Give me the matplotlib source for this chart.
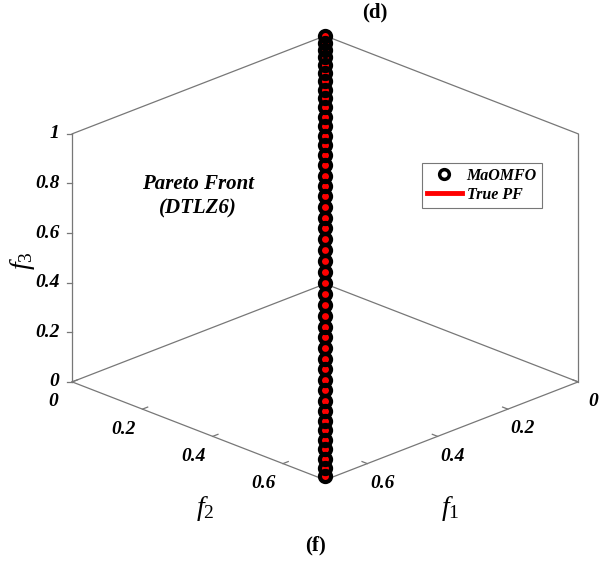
import matplotlib
matplotlib.use("Agg")
import matplotlib.pyplot as plt
from mpl_toolkits.mplot3d import proj3d

plt.rcParams['mathtext.fontset'] = 'custom'
plt.rcParams['mathtext.it'] = 'Liberation Serif:italic'
plt.rcParams['mathtext.rm'] = 'Liberation Serif'

# MaOMFO solutions (f1 = f2 on the DTLZ6 degenerate front)
mao_f1 = [0.0000, 0.0247, 0.0494, 0.0739, 0.0984, 0.1228, 0.1470, 0.1711, 0.1949, 0.2185,
          0.2418, 0.2649, 0.2876, 0.3100, 0.3320, 0.3536, 0.3747, 0.3954, 0.4156, 0.4354,
          0.4545, 0.4731, 0.4912, 0.5086, 0.5255, 0.5416, 0.5572, 0.5720, 0.5862, 0.5996,
          0.6124, 0.6243, 0.6355, 0.6459, 0.6556, 0.6645, 0.6725, 0.6797, 0.6861, 0.6916,
          0.6964, 0.7002, 0.7032, 0.7054, 0.7067, 0.7071]
mao_f2 = list(mao_f1)
mao_f3 = [1.0000, 0.9994, 0.9976, 0.9945, 0.9903, 0.9848, 0.9781, 0.9703, 0.9613, 0.9511,
          0.9397, 0.9272, 0.9135, 0.8988, 0.8829, 0.8660, 0.8480, 0.8290, 0.8090, 0.7880,
          0.7660, 0.7431, 0.7193, 0.6947, 0.6691, 0.6428, 0.6157, 0.5878, 0.5592, 0.5299,
          0.5000, 0.4695, 0.4384, 0.4067, 0.3746, 0.3420, 0.3090, 0.2756, 0.2419, 0.2079,
          0.1736, 0.1392, 0.1045, 0.0698, 0.0349, 0.0000]

# true Pareto front
pf_f1 = [0.0000, 0.0617, 0.1349, 0.2067, 0.2763, 0.3428, 0.4056, 0.4639, 0.5172,
         0.5647, 0.6061, 0.6409, 0.6686, 0.6890, 0.7018, 0.7071]
pf_f2 = list(pf_f1)
pf_f3 = [1.0000, 0.9962, 0.9816, 0.9563, 0.9205, 0.8746, 0.8192, 0.7547, 0.6820,
         0.6018, 0.5150, 0.4226, 0.3256, 0.2250, 0.1219, 0.0000]

xy_ticks = [0, 0.2, 0.4, 0.6]
z_ticks = [0, 0.2, 0.4, 0.6, 0.8, 1]
xmax = 0.72

fig = plt.figure(figsize=(5.99, 5.62), dpi=100)
ax = fig.add_axes([0.0814, 0.079, 0.9, 0.9], projection='3d')
ax.set_proj_type('ortho')
ax.view_init(elev=22.8, azim=45)
ax.set_box_aspect((1, 1, 0.752), zoom=1.10)
ax.set_xlim(0, xmax)
ax.set_ylim(0, xmax)
ax.set_zlim(0, 1)
ax.set_axis_off()
ax.computed_zorder = False

gc = '#777777'
glw = 0.9
# box edges (back planes + bottom)
edges = [
    ([xmax, xmax], [0, 0], [0, 1]),
    ([0, 0], [xmax, xmax], [0, 1]),
    ([0, 0], [0, 0], [0, 1]),
    ([xmax, 0], [0, 0], [1, 1]),
    ([0, 0], [xmax, 0], [1, 1]),
    ([xmax, 0], [0, 0], [0, 0]),
    ([0, 0], [xmax, 0], [0, 0]),
    ([xmax, xmax], [0, xmax], [0, 0]),
    ([0, xmax], [xmax, xmax], [0, 0]),
]
for ex, ey, ez in edges:
    ax.plot(ex, ey, ez, color=gc, lw=glw, zorder=1, clip_on=False)

tfont = dict(family='Liberation Serif', weight='bold', style='italic', size=14)
M = ax.get_proj()


def label3d(x, y, z, s, **kw):
    # place a 2D text at the projected position of a 3D point
    px, py, _ = proj3d.proj_transform(x, y, z, M)
    ax.text2D(px, py, s, transform=ax.transData, clip_on=False, **kw)


# f3 ticks on the left vertical edge
for z in z_ticks:
    ax.plot([xmax, xmax + 0.008], [0, -0.008], [z, z], color=gc, lw=glw, zorder=1,
            clip_on=False)
    label3d(xmax + 0.018, -0.018, z, f'{z:g}', ha='right', va='center', **tfont)

# f2 ticks on left-front edge, f1 ticks on right-front edge
for t in xy_ticks:
    ax.plot([xmax, xmax - 0.015], [t, t], [0, 0], color=gc, lw=glw, zorder=1, clip_on=False)
    label3d(xmax + 0.055, t, -0.05, f'{t:g}', ha='center', va='center', **tfont)
    ax.plot([t, t], [xmax, xmax - 0.015], [0, 0], color=gc, lw=glw, zorder=1, clip_on=False)
    label3d(t, xmax + 0.043, -0.056, f'{t:g}', ha='center', va='center', **tfont)

ax.plot(pf_f1, pf_f2, pf_f3, color='red', lw=5, zorder=2, label='True PF', clip_on=False)
ax.plot(mao_f1, mao_f2, mao_f3, 'o', mfc='none', mec='black', mew=3, ms=8,
        zorder=3, label='MaOMFO', clip_on=False)

handles, labels = ax.get_legend_handles_labels()
leg = ax.legend(handles[::-1], labels[::-1], loc='upper left',
                bbox_to_anchor=(0.691, 0.724), bbox_transform=fig.transFigure,
                prop=dict(family='Liberation Serif', weight='bold', style='italic', size=11.5),
                frameon=True, fancybox=False, edgecolor='#777777', framealpha=1,
                borderpad=0.3, handlelength=2.2, handletextpad=0.3, labelspacing=0.2)
leg.get_frame().set_linewidth(0.8)
leg.legend_handles[0].set_markersize(7)
leg.legend_handles[0].set_markeredgewidth(2.5)
leg.legend_handles[1].set_linewidth(3.5)

lfont = dict(family='Liberation Serif', weight='bold', style='italic', size=15)
fig.text(0.331, 0.65, 'Pareto Front\n(DTLZ6)', ha='center', va='center',
         linespacing=1.3, **lfont)

fig.text(0.037, 0.537, r'$f_3$', ha='center', va='center', rotation=90, fontsize=20)
fig.text(0.342, 0.096, r'$f_2$', ha='center', va='center', fontsize=20)
fig.text(0.751, 0.096, r'$f_1$', ha='center', va='center', fontsize=20)

fig.text(0.626, 0.978, '(d)', ha='center', va='center', family='Liberation Serif',
         weight='bold', size=15)
fig.text(0.526, 0.03, '(f)', ha='center', va='center', family='Liberation Serif',
         weight='bold', size=15)

fig.savefig('out.png', dpi=100)
